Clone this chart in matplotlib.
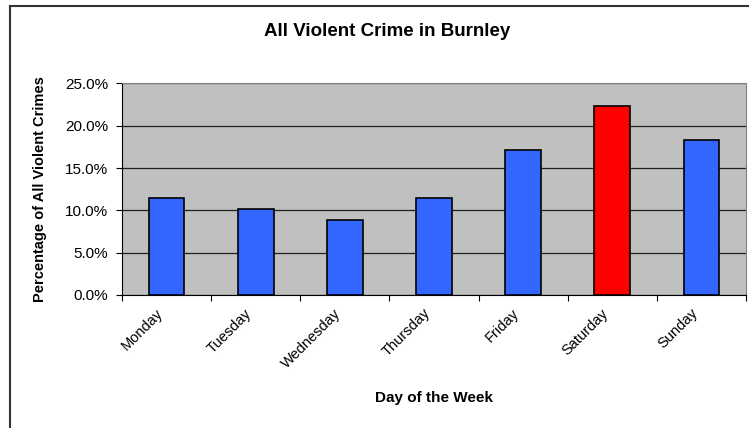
import matplotlib
matplotlib.use("Agg")
import numpy as np
import matplotlib.pyplot as plt
import matplotlib.transforms as mtransforms
from matplotlib.lines import Line2D
from matplotlib.ticker import PercentFormatter

days = ['Monday', 'Tuesday', 'Wednesday', 'Thursday', 'Friday', 'Saturday', 'Sunday']
pct = [11.5, 10.2, 8.9, 11.5, 17.1, 22.3, 18.3]
bar_colors = ['#3366FF', '#3366FF', '#3366FF', '#3366FF', '#3366FF', '#FF0000', '#3366FF']

plt.rcParams['font.family'] = ['Liberation Sans', 'DejaVu Sans']

fig = plt.figure(figsize=(7.49, 4.28), dpi=100)
W, H = 749, 428
ax = fig.add_axes([122/W, 1-295/H, (746-122)/W, (295-83.5)/H])

x = np.arange(len(days))
ax.set_facecolor('#C0C0C0')
ax.bar(x, pct, width=0.4, color=bar_colors, edgecolor='black', linewidth=1.2, zorder=3)

ax.set_xlim(-0.5, len(days) - 0.5)
ax.set_ylim(0, 25)
ax.set_yticks(np.arange(0, 25.1, 5))
ax.yaxis.set_major_formatter(PercentFormatter(decimals=1))
ax.grid(axis='y', color='#202020', linewidth=0.9, zorder=1)
ax.set_axisbelow(True)

# tick marks between categories, labels at category centres
ax.set_xticks(np.arange(-0.5, len(days), 1), minor=False)
ax.set_xticklabels([])
ax.set_xticks(x, minor=True)
ax.set_xticklabels(days, minor=True, rotation=45, ha='right', va='top',
                   rotation_mode='anchor', fontsize=10.5)
ax.tick_params(axis='x', which='minor', length=0, pad=8)
ax.tick_params(axis='x', which='major', length=4, direction='out', color='black')
ax.tick_params(axis='y', labelsize=11, length=4, color='black', pad=6)
shift = mtransforms.ScaledTranslation(-8/72, 0, fig.dpi_scale_trans)
for lab in ax.get_xticklabels(minor=True):
    lab.set_transform(lab.get_transform() + shift)

for s in ['top', 'right']:
    ax.spines[s].set_color('#808080')
for s in ['left', 'bottom']:
    ax.spines[s].set_color('black')

fig.text(387/W, 1-32/H, 'All Violent Crime in Burnley', fontsize=13.5, fontweight='bold',
         ha='center', va='center')
fig.text(434/W, 1-398/H, 'Day of the Week', fontsize=11, fontweight='bold',
         ha='center', va='center')
fig.text(40/W, 1-189/H, 'Percentage of All Violent Crimes', fontsize=10.5, fontweight='bold',
         ha='center', va='center', rotation=90)

# outer frame (top and left edges visible)
fig.add_artist(Line2D([9.5/W, 1], [1-6/H, 1-6/H], color='#333333', linewidth=1.5,
                      transform=fig.transFigure))
fig.add_artist(Line2D([9.5/W, 9.5/W], [0, 1-6/H], color='#333333', linewidth=1.5,
                      transform=fig.transFigure))

fig.savefig('out.png', dpi=100)
